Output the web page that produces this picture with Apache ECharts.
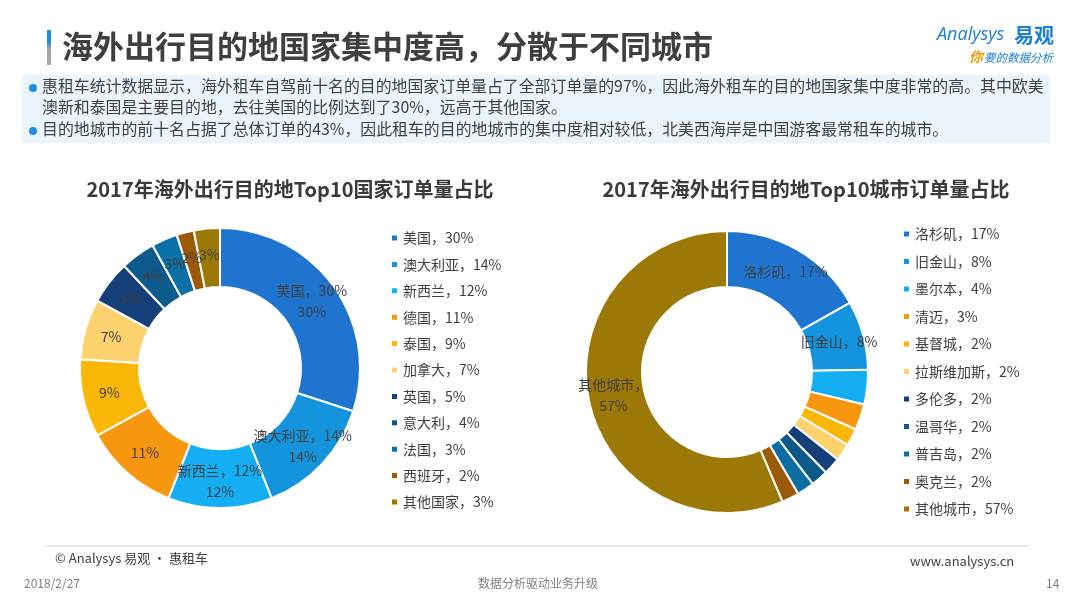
<!DOCTYPE html>
<html>
<head>
<meta charset="utf-8">
<script src="https://cdn.jsdelivr.net/npm/echarts@6/dist/echarts.min.js"></script>
<style>
html,body{margin:0;padding:0;background:#fff;}
#main{width:1080px;height:608px;}
</style>
</head>
<body>
<div id="main"></div>
<script>
const countryNames = ['美国','澳大利亚','新西兰','德国','泰国','加拿大','英国','意大利','法国','西班牙','其他国家'];
const countryValues = [30,14,12,11,9,7,5,4,3,2,3];
const countryColors = ['#1f74cf','#1394dd','#14aef4','#f7960f','#fbb707','#fcd26e','#153f79','#0d5a8c','#0a70a6','#9a5a08','#9c7806'];

const cityNames = ['洛杉矶','旧金山','墨尔本','清迈','基督城','拉斯维加斯','多伦多','温哥华','普吉岛','奥克兰','其他城市'];
const cityValues = [17,8,4,3,2,2,2,2,2,2,57];
const cityColors = ['#1f74cf','#1394dd','#14aef4','#f7960f','#fbb707','#fcd26e','#153f79','#0a5a88','#0b6ea3','#9a5a08','#9c7806'];

const FONT = '"Noto Sans CJK SC","Noto Sans",sans-serif';
const textColor = '#404040';

function countryLabel(p){
  if (p.dataIndex <= 2) return p.name + '，' + p.value + '%\n' + p.value + '%';
  return p.value + '%';
}
function cityLabel(p){
  if (p.dataIndex <= 1) return p.name + '，' + p.value + '%';
  if (p.dataIndex === 10) return p.name + '，\n' + p.value + '%';
  return '';
}

const chart = echarts.init(document.getElementById('main'), null, {renderer:'canvas'});
const option = {
  animation: false,
  backgroundColor: '#fff',
  textStyle: {fontFamily: FONT},
  title: [
    {text:'2017年海外出行目的地Top10国家订单量占比', left:285, top:174, textAlign:'center',
     textStyle:{fontSize:20, fontWeight:'bold', color:'#3a3a3a', fontFamily:FONT}},
    {text:'2017年海外出行目的地Top10城市订单量占比', left:801, top:174, textAlign:'center',
     textStyle:{fontSize:20, fontWeight:'bold', color:'#3a3a3a', fontFamily:FONT}}
  ],
  legend: [
    {orient:'vertical', left:385, top:225, itemWidth:7, itemHeight:7, itemGap:10.4, icon:'rect',
     data: countryNames, selectedMode:false,
     formatter: n => n + '，' + countryValues[countryNames.indexOf(n)] + '%',
     textStyle:{fontSize:14, lineHeight:16, color:textColor, fontFamily:FONT}},
    {orient:'vertical', left:897, top:221, itemWidth:7, itemHeight:7, itemGap:11.5, icon:'rect',
     data: cityNames, selectedMode:false,
     formatter: n => n + '，' + cityValues[cityNames.indexOf(n)] + '%',
     textStyle:{fontSize:14, lineHeight:16, color:textColor, fontFamily:FONT}}
  ],
  series: [
    {type:'pie', center:[220,368], radius:[81,140], startAngle:90, clockwise:true,
     avoidLabelOverlap:false, silent:true, minShowLabelAngle:0,
     labelLayout:{hideOverlap:false},
     itemStyle:{borderColor:'#fff', borderWidth:2},
     label:{show:true, position:'inside', formatter:countryLabel, fontSize:14, lineHeight:21, color:textColor, fontFamily:FONT},
     labelLine:{show:false},
     data: countryNames.map((n,i)=>({name:n, value:countryValues[i], itemStyle:{color:countryColors[i]}}))
    },
    {type:'pie', center:[727,372], radius:[85,141], startAngle:90, clockwise:true,
     avoidLabelOverlap:false, silent:true, minShowLabelAngle:0,
     labelLayout:{hideOverlap:false},
     itemStyle:{borderColor:'#fff', borderWidth:2},
     label:{show:true, position:'inside', formatter:cityLabel, fontSize:14, lineHeight:21, color:textColor, fontFamily:FONT},
     labelLine:{show:false},
     data: cityNames.map((n,i)=>({name:n, value:cityValues[i], itemStyle:{color:cityColors[i]}}))
    }
  ],
  graphic: [
    {type:'rect', shape:{x:47, y:30, width:4, height:35},
     style:{fill:new echarts.graphic.LinearGradient(0,0,0,1,[{offset:0,color:'#1e8fe0'},{offset:0.35,color:'#1e8fe0'},{offset:0.55,color:'#a8a8a8'},{offset:1,color:'#a8a8a8'}])}},
    {type:'text', left:62, top:31, style:{text:'海外出行目的地国家集中度高，分散于不同城市', fontSize:31, fontWeight:'bold', fill:'#3f3f3f', fontFamily:FONT}},
    {type:'text', left:937, top:26, style:{text:'Analysys', fontSize:18, fontStyle:'italic', fill:'#1a7fd8', fontFamily:'"Open Sans",sans-serif'}},
    {type:'text', left:1014, top:25, style:{text:'易观', fontSize:20, fontWeight:'bold', fill:'#1a7fd8', fontFamily:FONT}},
    {type:'text', left:969, top:50, style:{text:'你', fontSize:14, fontStyle:'italic', fontWeight:'bold', fill:'#f39800', fontFamily:FONT}},
    {type:'text', left:984, top:52, style:{text:'要的数据分析', fontSize:11.5, fontStyle:'italic', fill:'#1a7fd8', fontFamily:FONT}},
    {type:'rect', shape:{x:22, y:75, width:1028, height:68}, style:{fill:'#eaf4fc'}},
    {type:'circle', shape:{cx:33, cy:88, r:4}, style:{fill:'#1e8fe0'}},
    {type:'circle', shape:{cx:33, cy:131, r:4}, style:{fill:'#1e8fe0'}},
    {type:'text', left:42, top:78, style:{text:'惠租车统计数据显示，海外租车自驾前十名的目的地国家订单量占了全部订单量的97%，因此海外租车的目的地国家集中度非常的高。其中欧美', fontSize:15.9, fill:textColor, fontFamily:FONT}},
    {type:'text', left:42, top:99, style:{text:'澳新和泰国是主要目的地，去往美国的比例达到了30%，远高于其他国家。', fontSize:15.9, fill:textColor, fontFamily:FONT}},
    {type:'text', left:42, top:121, style:{text:'目的地城市的前十名占据了总体订单的43%，因此租车的目的地城市的集中度相对较低，北美西海岸是中国游客最常租车的城市。', fontSize:15.9, fill:textColor, fontFamily:FONT}},
    {type:'line', shape:{x1:45, y1:546, x2:1030, y2:546}, style:{stroke:'#d4d4d4', lineWidth:1}},
    {type:'text', left:55, top:552, style:{text:'© Analysys 易观 · 惠租车', fontSize:13, fill:textColor, fontFamily:FONT}},
    {type:'text', left:910, top:555, style:{text:'www.analysys.cn', fontSize:13, fill:textColor, fontFamily:FONT}},
    {type:'text', left:24, top:577, style:{text:'2018/2/27', fontSize:12, fill:'#7f7f7f', fontFamily:FONT}},
    {type:'text', left:478, top:577, style:{text:'数据分析驱动业务升级', fontSize:12, fill:'#7f7f7f', fontFamily:FONT}},
    {type:'text', left:1046, top:577, style:{text:'14', fontSize:12, fill:'#7f7f7f', fontFamily:FONT}}
  ]
};
chart.setOption(option);
</script>
</body>
</html>
